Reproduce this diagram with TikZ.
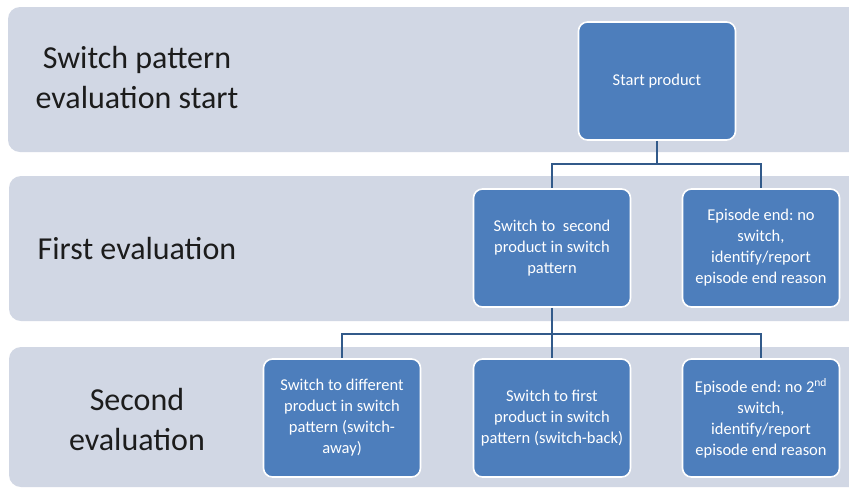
\documentclass[tikz,border=0pt]{standalone}
\usepackage{fontspec}
\setmainfont{Carlito}
\definecolor{bandc}{HTML}{D1D7E4}
\definecolor{boxc}{HTML}{4D7EBC}
\definecolor{connc}{HTML}{325A8A}
\definecolor{labc}{HTML}{1C1C1C}
\begin{document}
\frenchspacing
\begin{tikzpicture}[x=1pt,y=-1pt,
  band/.style={fill=bandc, rounded corners=12pt},
  box/.style={draw=white, line width=1.6pt, fill=boxc, rounded corners=9pt,
    minimum width=157pt, minimum height=118pt, text=white, align=center,
    font=\fontsize{16.5}{21}\selectfont, inner sep=2pt},
  lab/.style={align=center, text=labc, font=\fontsize{32}{40}\selectfont},
  conn/.style={draw=connc, line width=2.4pt}]
\useasboundingbox (0,0) rectangle (849,491);
\fill[white] (0,0) rectangle (849,491);
\begin{scope}
  \clip (0,0) rectangle (849,491);
  \fill[band] (8,7) rectangle (875,152);
  \fill[band] (9,176) rectangle (875,321);
  \fill[band] (9,347) rectangle (875,487);
\end{scope}
% labels
\node[lab] (l1) at (137,78) {Switch pattern\\evaluation start};
\node[lab] (l2) at (137,249) {First evaluation};
\node[lab] (l3) at (137,419) {Second\\evaluation};
% boxes
\node[box] (start) at (657,81) {Start product};
\node[box] (b1) at (552,248) {Switch to\ \ second\\product in switch\\pattern};
\node[box] (b2) at (761,248) {Episode end: no\\switch,\\identify/report\\episode end reason};
\node[box] (c1) at (342,418) {Switch to different\\product in switch\\pattern (switch-\\away)};
\node[box] (c2) at (552,418) {Switch to first\\product in switch\\pattern (switch-back)};
\node[box] (c3) at (761,418) {Episode end: no 2\textsuperscript{nd}\\switch,\\identify/report\\episode end reason};
% connectors
\coordinate (h1) at (0,164);
\coordinate (h2) at (0,334);
\draw[conn] (start.south) -- (start.south |- h1) -| (b1.north);
\draw[conn] (start.south |- h1) -| (b2.north);
\draw[conn] (b1.south) -- (c2.north);
\draw[conn] (b1.south |- h2) -| (c1.north);
\draw[conn] (b1.south |- h2) -| (c3.north);
\end{tikzpicture}
\end{document}
